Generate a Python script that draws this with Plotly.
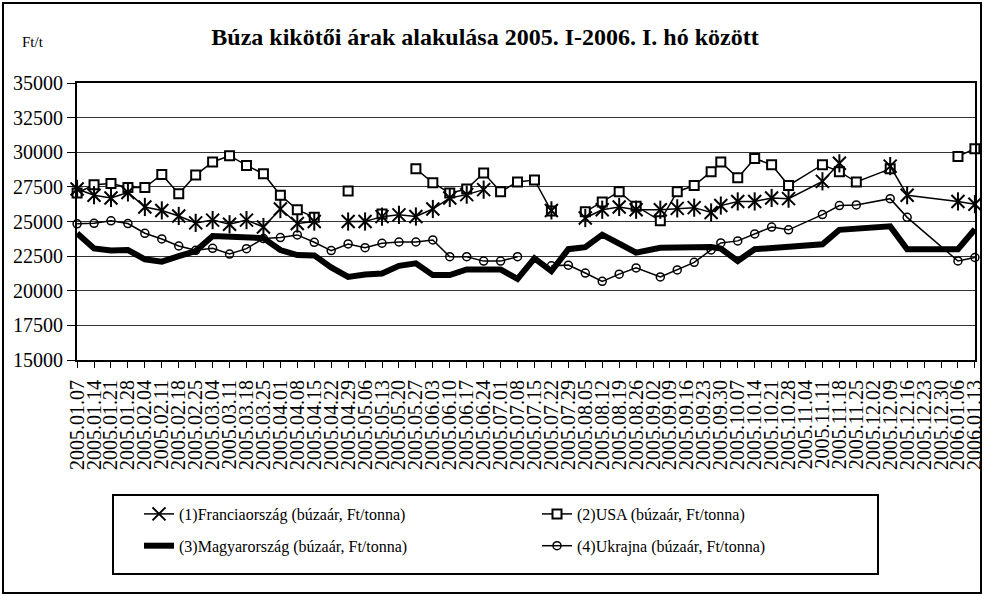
import plotly.graph_objects as go

# ---- data ----
dates = [
    "2005-01-07", "2005-01-14", "2005-01-21", "2005-01-28", "2005-02-04", "2005-02-11",
    "2005-02-18", "2005-02-25", "2005-03-04", "2005-03-11", "2005-03-18", "2005-03-25",
    "2005-04-01", "2005-04-08", "2005-04-15", "2005-04-22", "2005-04-29", "2005-05-06",
    "2005-05-13", "2005-05-20", "2005-05-27", "2005-06-03", "2005-06-10", "2005-06-17",
    "2005-06-24", "2005-07-01", "2005-07-08", "2005-07-15", "2005-07-22", "2005-07-29",
    "2005-08-05", "2005-08-12", "2005-08-19", "2005-08-26", "2005-09-05", "2005-09-12",
    "2005-09-19", "2005-09-26", "2005-09-30", "2005-10-07", "2005-10-14", "2005-10-21",
    "2005-10-28", "2005-11-11", "2005-11-18", "2005-11-25", "2005-12-09", "2005-12-16",
    "2006-01-06", "2006-01-13",
]

francia = [
    27350, 26900, 26700, 27100, 26050, 25800, 25400, 24900, 25100, 24800, 25100, 24600,
    25900, 24850, 25000, None, 25000, 25000, 25350, 25480, 25360, 25900, 26700, 26940,
    27300, None, None, None, 25800, None, 25250, 25850, 26050, 25850, 25850, 25950,
    26000, 25650, 26150, 26450, 26450, 26700, 26650, 27900, 29200, None, 29000, 26900,
    26450, 26250,
]

usa = [
    27050, 27650, 27750, 27450, 27450, 28400, 27000, 28350, 29300, 29750, 29050, 28450,
    26900, 25850, 25300, None, 27200, None, 25550, None, 28800, 27800, 27050, 27350,
    28500, 27150, 27850, 28000, 25750, None, 25700, 26400, 27150, 26100, 25050, 27150,
    27600, 28600, 29300, 28150, 29550, 29100, 27600, 29100, 28600, 27850, 28800, None,
    29700, 30250,
]

magyar = [
    24150, 23050, 22900, 22940, 22270, 22100, 22500, 22870, 23950, 23880, 23870, 23800,
    22940, 22580, 22550, 21680, 21000, 21180, 21250, 21800, 21980, 21130, 21130, 21540,
    21540, 21540, 20850, 22340, 21420, 23000, 23150, 24050, 23400, 22750, 23100, 23150,
    23150, 23150, 23050, 22150, 23000, 23100, 23150, 23350, 24400, 24450, 24650, 23000,
    23000, 24450,
]

ukrajna = [
    24830, 24870, 25050, 24850, 24150, 23740, 23230, 22920, 23060, 22650, 23040, 23770,
    23840, 24030, 23500, 22900, 23380, 23110, 23430, 23520, 23520, 23670, 22460, 22460,
    22140, 22140, 22460, None, 21800, 21850, 21280, 20680, 21200, 21650, 21000, 21500,
    22050, 22950, 23450, 23600, 24100, 24600, 24400, 25500, 26150, 26200, 26650, 25300,
    22150, 22400,
]

tick_dates = [
    "2005-01-07", "2005-01-14", "2005-01-21", "2005-01-28", "2005-02-04", "2005-02-11",
    "2005-02-18", "2005-02-25", "2005-03-04", "2005-03-11", "2005-03-18", "2005-03-25",
    "2005-04-01", "2005-04-08", "2005-04-15", "2005-04-22", "2005-04-29", "2005-05-06",
    "2005-05-13", "2005-05-20", "2005-05-27", "2005-06-03", "2005-06-10", "2005-06-17",
    "2005-06-24", "2005-07-01", "2005-07-08", "2005-07-15", "2005-07-22", "2005-07-29",
    "2005-08-05", "2005-08-12", "2005-08-19", "2005-08-26", "2005-09-02", "2005-09-09",
    "2005-09-16", "2005-09-23", "2005-09-30", "2005-10-07", "2005-10-14", "2005-10-21",
    "2005-10-28", "2005-11-04", "2005-11-11", "2005-11-18", "2005-11-25", "2005-12-02",
    "2005-12-09", "2005-12-16", "2005-12-23", "2005-12-30", "2006-01-06", "2006-01-13",
]
tick_labels = [
    "2005.01.07", "2005.01.14", "2005.01.21", "2005.01.28", "2005.02.04", "2005.02.11",
    "2005.02.18", "2005.02.25", "2005.03.04", "2005.03.11", "2005.03.18", "2005.03.25",
    "2005.04.01", "2005.04.08", "2005.04.15", "2005.04.22", "2005.04.29", "2005.05.06",
    "2005.05.13", "2005.05.20", "2005.05.27", "2005.06.03", "2005.06.10", "2005.06.17",
    "2005.06.24", "2005.07.01", "2005.07.08", "2005.07.15", "2005.07.22", "2005.07.29",
    "2005.08.05", "2005.08.12", "2005.08.19", "2005.08.26", "2005.09.02", "2005.09.09",
    "2005.09.16", "2005.09.23", "2005.09.30", "2005.10.07", "2005.10.14", "2005.10.21",
    "2005.10.28", "2005.11.04", "2005.11.11", "2005.11.18", "2005.11.25", "2005.12.02",
    "2005.12.09", "2005.12.16", "2005.12.23", "2005.12.30", "2006.01.06", "2006.01.13",
]

names = [
    "(1)Franciaország (búzaár, Ft/tonna)",
    "(2)USA (búzaár, Ft/tonna)",
    "(3)Magyarország (búzaár, Ft/tonna)",
    "(4)Ukrajna (búzaár, Ft/tonna)",
]

FONT = "Liberation Serif, Times New Roman, serif"
W, H = 984, 596
L, R, T, B = 77, 9, 83, 236
PW, PH = W - L - R, H - T - B


def px_x(p):
    return (p - L) / PW


def px_y(p):
    return (H - B - p) / PH


fig = go.Figure()

fig.add_trace(go.Scatter(
    x=dates, y=magyar, name=names[2], mode="lines",
    line=dict(color="black", width=6), legend="legend", legendrank=2,
    legendgroup="m", connectgaps=False, cliponaxis=False))
fig.add_trace(go.Scatter(
    x=dates, y=ukrajna, name=names[3], mode="lines+markers",
    line=dict(color="black", width=1.5),
    marker=dict(symbol="circle-open", size=8, color="black", line=dict(width=1.5)),
    legend="legend2", legendrank=2, legendgroup="k", connectgaps=False, cliponaxis=False))
fig.add_trace(go.Scatter(
    x=dates, y=usa, name=names[1], mode="lines+markers",
    line=dict(color="black", width=1.5),
    marker=dict(symbol="square", size=9, color="white", line=dict(color="black", width=2)),
    legend="legend2", legendrank=1, legendgroup="u", connectgaps=False, cliponaxis=False))
fig.add_trace(go.Scatter(
    x=dates, y=francia, name=names[0], mode="lines+markers",
    line=dict(color="black", width=1.5),
    marker=dict(symbol="x-thin-open", size=13, color="black", line=dict(color="black", width=2)),
    legend="legend", legendrank=1, legendgroup="f", connectgaps=False, cliponaxis=False))
fig.add_trace(go.Scatter(
    x=dates, y=francia, mode="markers", showlegend=False, cliponaxis=False,
    marker=dict(symbol="line-ns-open", size=13, color="black", line=dict(color="black", width=2)),
    hoverinfo="skip"))

legend_common = dict(
    orientation="v", bgcolor="rgba(0,0,0,0)", borderwidth=0,
    font=dict(family=FONT, size=16, color="black"),
    traceorder="grouped", tracegroupgap=8, xanchor="left", yanchor="top",
    itemwidth=30,
)

fig.update_layout(
    width=W, height=H,
    margin=dict(l=L, r=R, t=T, b=B, autoexpand=False),
    paper_bgcolor="white", plot_bgcolor="white",
    font=dict(family=FONT, color="black"),
    title=dict(text="<b>Búza kikötői árak alakulása 2005. I-2006. I. hó között</b>",
               font=dict(family=FONT, size=24, color="black"),
               x=485 / W, xanchor="center", y=1 - 37 / H, yanchor="middle"),
    legend=dict(x=px_x(139), y=px_y(497), **legend_common),
    legend2=dict(x=px_x(537), y=px_y(497), **legend_common),
    xaxis=dict(
        type="date", range=["2005-01-06 23:00", "2006-01-13 01:00"],
        tickmode="array", tickvals=tick_dates, ticktext=tick_labels,
        tickangle=-90, ticks="outside", ticklen=6, tickcolor="black", tickwidth=1,
        ticklabelstandoff=4, ticklabeloverflow="allow",
        tickfont=dict(family=FONT, size=20, color="black"),
        showgrid=False, showline=True, linecolor="black", linewidth=2, mirror=True,
        zeroline=False,
    ),
    yaxis=dict(
        range=[15000, 35000], tickmode="linear", tick0=15000, dtick=2500,
        tickformat="d", ticks="outside", ticklen=8, tickcolor="black", tickwidth=1,
        tickfont=dict(family=FONT, size=20, color="black"),
        showgrid=True, gridcolor="#333333", gridwidth=1,
        showline=True, linecolor="black", linewidth=2, mirror=True, zeroline=False,
    ),
    showlegend=True,
)

fig.add_annotation(text="Ft/t", xref="paper", yref="paper", x=px_x(33), y=px_y(42),
                   showarrow=False, font=dict(family=FONT, size=15, color="black"),
                   xanchor="center", yanchor="middle")

# legend frame
fig.add_shape(type="rect", xref="paper", yref="paper",
              x0=px_x(113), x1=px_x(878), y0=px_y(574), y1=px_y(495),
              line=dict(color="black", width=2), fillcolor="rgba(0,0,0,0)", layer="above")
# outer chart frame
fig.add_shape(type="rect", xref="paper", yref="paper",
              x0=px_x(3), x1=px_x(981), y0=px_y(593), y1=px_y(3),
              line=dict(color="black", width=2), fillcolor="rgba(0,0,0,0)", layer="above")

fig.write_html("out.html", config={"displayModeBar": False},
               post_script="document.body.style.margin='0';")
